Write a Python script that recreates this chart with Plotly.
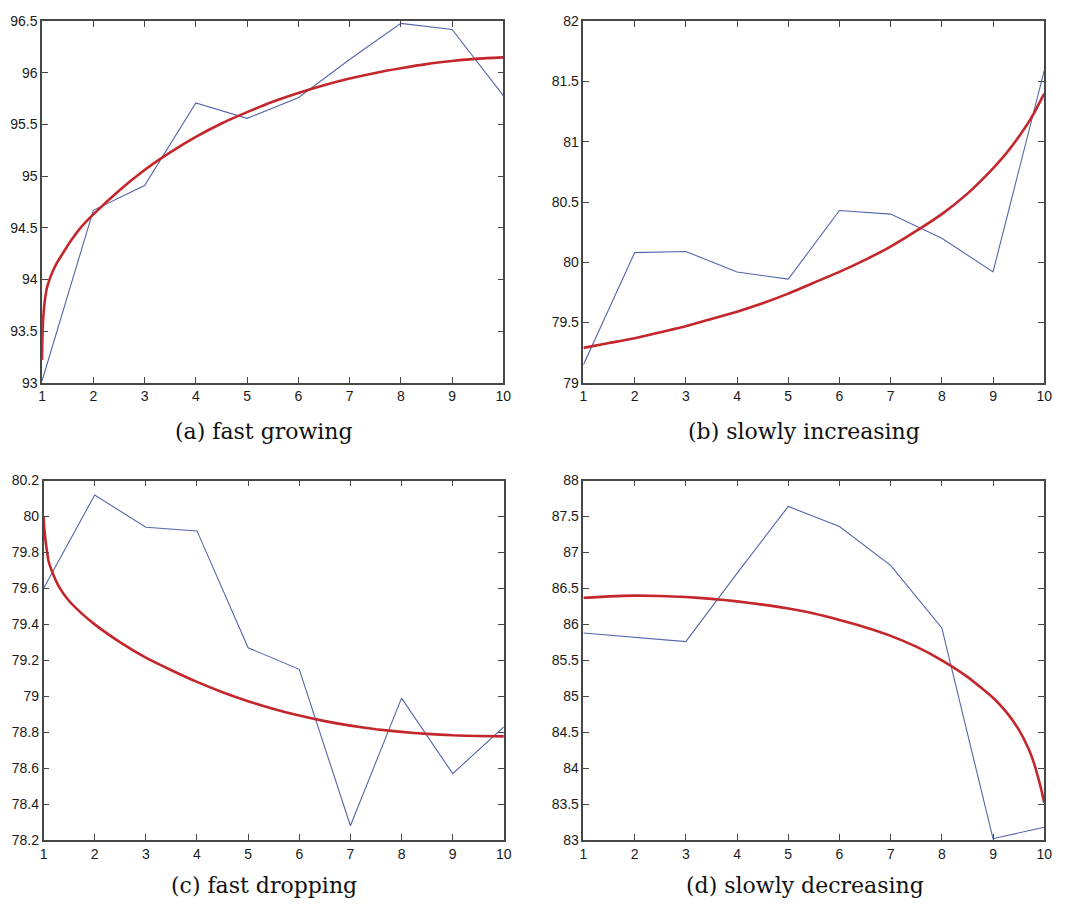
import plotly.graph_objects as go

# Observed values at steps 1..10
steps = [1, 2, 3, 4, 5, 6, 7, 8, 9, 10]

obs_growing = [93.02, 94.67, 94.91, 95.71, 95.56, 95.76, 96.13, 96.48, 96.42, 95.78]
obs_increasing = [79.15, 80.08, 80.09, 79.92, 79.86, 80.43, 80.40, 80.20, 79.92, 81.59]
obs_dropping = [79.60, 80.12, 79.94, 79.92, 79.27, 79.15, 78.28, 78.99, 78.57, 78.83]
obs_decreasing = [85.88, 85.82, 85.76, 86.71, 87.64, 87.36, 86.82, 85.95, 83.02, 83.18]

# Fitted trend curves (sampled)
fit_x_growing = [1.0, 1.01, 1.03, 1.06, 1.1, 1.2, 1.3, 1.4, 1.5, 1.75, 2.0, 2.5, 3, 3.5, 4, 4.5, 5, 5.5, 6,
                 6.5, 7, 7.5, 8, 8.5, 9, 9.5, 10]
fit_y_growing = [93.22, 93.50, 93.68, 93.82, 93.93, 94.07, 94.17, 94.25, 94.33, 94.50, 94.63, 94.86, 95.06, 95.23,
                 95.38, 95.51, 95.62, 95.72, 95.805, 95.88, 95.945, 96.0, 96.045, 96.085, 96.115, 96.138, 96.15]

fit_x_increasing = [1, 1.5, 2, 2.5, 3, 3.5, 4, 4.5, 5, 5.5, 6, 6.5, 7, 7.5, 8, 8.5, 9, 9.25, 9.5, 9.75, 10]
fit_y_increasing = [79.29, 79.33, 79.37, 79.42, 79.47, 79.53, 79.59, 79.66, 79.74, 79.83, 79.92, 80.02, 80.13, 80.26,
                    80.40, 80.57, 80.78, 80.90, 81.04, 81.20, 81.40]

fit_x_dropping = [1.0, 1.01, 1.03, 1.06, 1.1, 1.2, 1.3, 1.5, 1.75, 2.0, 2.5, 3, 3.5, 4, 4.5, 5, 5.5, 6, 6.5, 7,
                  7.5, 8, 8.5, 9, 9.5, 10]
fit_y_dropping = [80.00, 79.95, 79.89, 79.82, 79.75, 79.67, 79.61, 79.53, 79.46, 79.40, 79.30, 79.215, 79.145,
                  79.08, 79.023, 78.973, 78.93, 78.893, 78.862, 78.837, 78.817, 78.802, 78.791, 78.783, 78.779,
                  78.777]

fit_x_decreasing = [1, 1.5, 2, 2.5, 3, 3.5, 4, 4.5, 5, 5.5, 6, 6.5, 7, 7.5, 8, 8.5, 9, 9.25, 9.5, 9.7, 9.8, 9.9,
                    9.95, 10]
fit_y_decreasing = [86.37, 86.39, 86.40, 86.395, 86.38, 86.355, 86.32, 86.275, 86.22, 86.15, 86.06, 85.96, 85.84,
                    85.69, 85.50, 85.27, 84.98, 84.79, 84.54, 84.26, 84.07, 83.82, 83.68, 83.52]

captions = ["(a) fast growing", "(b) slowly increasing", "(c) fast dropping", "(d) slowly decreasing"]

y_ranges = [[93, 96.5], [79, 82], [78.2, 80.2], [83, 88]]
y_ticks = [
    [93, 93.5, 94, 94.5, 95, 95.5, 96, 96.5],
    [79, 79.5, 80, 80.5, 81, 81.5, 82],
    [78.2, 78.4, 78.6, 78.8, 79, 79.2, 79.4, 79.6, 79.8, 80, 80.2],
    [83, 83.5, 84, 84.5, 85, 85.5, 86, 86.5, 87, 87.5, 88],
]
y_ticktext = [
    ["93", "93.5", "94", "94.5", "95", "95.5", "96", "96.5"],
    ["79", "79.5", "80", "80.5", "81", "81.5", "82"],
    ["78.2", "78.4", "78.6", "78.8", "79", "79.2", "79.4", "79.6", "79.8", "80", "80.2"],
    ["83", "83.5", "84", "84.5", "85", "85.5", "86", "86.5", "87", "87.5", "88"],
]

observed = [obs_growing, obs_increasing, obs_dropping, obs_decreasing]
fits = [
    (fit_x_growing, fit_y_growing),
    (fit_x_increasing, fit_y_increasing),
    (fit_x_dropping, fit_y_dropping),
    (fit_x_decreasing, fit_y_decreasing),
]

W, H = 1072, 912
# panel boxes in pixels: left, right, top, bottom
boxes = [
    (38.5, 505, 13.5, 381.5),
    (586, 1052, 13.5, 381.5),
    (40, 505.5, 481, 847),
    (586, 1052, 481, 847),
]
caption_pos = [(263, 431), (809, 431), (263, 893), (810, 893)]

BLUE = "#5565aa"
RED = "#c3262b"
AXIS = "#474747"
tick_font = dict(family="Liberation Sans, Arial, sans-serif", size=14, color="#1a1a1a")

fig = go.Figure()
layout = dict(
    width=W, height=H,
    margin=dict(l=0, r=0, t=0, b=0),
    paper_bgcolor="white", plot_bgcolor="white",
    showlegend=False,
    annotations=[],
)

for i in range(4):
    n = "" if i == 0 else str(i + 1)
    xa, ya = "x" + n, "y" + n
    fig.add_trace(go.Scatter(x=steps, y=observed[i], mode="lines",
                             line=dict(color=BLUE, width=1.1), xaxis=xa, yaxis=ya))
    fx, fy = fits[i]
    fig.add_trace(go.Scatter(x=fx, y=fy, mode="lines",
                             line=dict(color=RED, width=2.6, shape="spline", smoothing=0.5),
                             xaxis=xa, yaxis=ya))
    l, r, t, b = boxes[i]
    common = dict(showgrid=False, zeroline=False, showline=True, linecolor=AXIS, linewidth=1.5,
                  mirror="ticks", ticks="inside", ticklen=6, tickwidth=1, tickcolor=AXIS,
                  tickfont=tick_font, fixedrange=True)
    layout["xaxis" + n] = dict(common, domain=[l / W, r / W], range=[1, 10],
                               tickvals=steps, ticktext=[str(s) for s in steps],
                               anchor=ya, ticklabelstandoff=0)
    layout["yaxis" + n] = dict(common, domain=[1 - b / H, 1 - t / H], range=y_ranges[i],
                               tickvals=y_ticks[i], ticktext=y_ticktext[i],
                               anchor=xa, ticklabelstandoff=0)
    cx, cy = caption_pos[i]
    layout["annotations"].append(dict(
        text=captions[i], x=cx / W, y=1 - cy / H, xref="paper", yref="paper",
        showarrow=False, xanchor="center", yanchor="middle",
        font=dict(family="DejaVu Serif, Liberation Serif, serif", size=22, color="#111"),
    ))

fig.update_layout(**layout)
fig.write_html("out.html")
